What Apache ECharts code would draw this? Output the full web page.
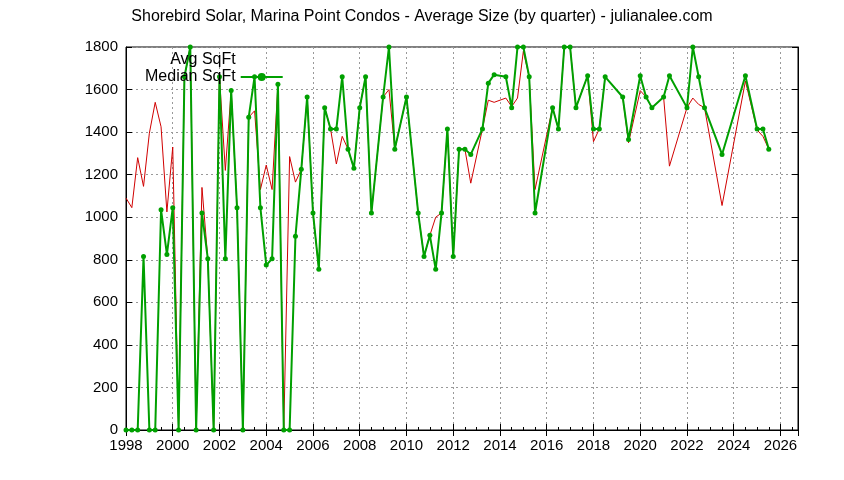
<!DOCTYPE html>
<html><head><meta charset="utf-8">
<script src="https://cdn.jsdelivr.net/npm/echarts@6/dist/echarts.min.js"></script>
<style>html,body{margin:0;padding:0;background:#fff}#c{width:844px;height:480px}</style>
</head><body><div id="c"></div>
<script>
const years=[1998,1998.25,1998.5,1998.75,1999,1999.25,1999.5,1999.75,2000,2000.25,2000.5,2000.75,2001,2001.25,2001.5,2001.75,2002,2002.25,2002.5,2002.75,2003,2003.25,2003.5,2003.75,2004,2004.25,2004.5,2004.75,2005,2005.25,2005.5,2005.75,2006,2006.25,2006.5,2006.75,2007,2007.25,2007.5,2007.75,2008,2008.25,2008.5,2009,2009.25,2009.5,2010,2010.5,2010.75,2011,2011.25,2011.5,2011.75,2012,2012.25,2012.5,2012.75,2013.25,2013.5,2013.75,2014.25,2014.5,2014.75,2015,2015.25,2015.5,2016.25,2016.5,2016.75,2017,2017.25,2017.75,2018,2018.25,2018.5,2019.25,2019.5,2020,2020.25,2020.5,2021,2021.25,2022,2022.25,2022.5,2022.75,2023.5,2024.5,2025,2025.25,2025.5];
const medianSqFt=[0,0,0,815,0,0,1035,825,1045,0,1660,1800,0,1020,805,0,1660,805,1595,1045,0,1470,1660,1045,775,805,1625,0,0,910,1225,1565,1020,755,1515,1415,1415,1660,1320,1230,1515,1660,1020,1565,1800,1320,1565,1020,815,915,755,1020,1415,815,1320,1320,1295,1415,1630,1670,1660,1515,1800,1800,1660,1020,1515,1415,1800,1800,1515,1665,1415,1415,1660,1565,1365,1665,1565,1515,1565,1665,1515,1800,1660,1515,1295,1665,1415,1415,1320];
const avgSqFt=[1090,1045,1280,1145,1395,1540,1425,1025,1330,0,1660,1800,0,1140,805,0,1660,1220,1595,1045,0,1470,1500,1130,1245,1130,1625,0,1285,1165,1225,1565,1020,755,1515,1415,1250,1380,1320,1230,1515,1660,1020,1565,1600,1320,1565,1020,815,915,1000,1020,1415,815,1320,1320,1160,1415,1550,1540,1560,1520,1560,1780,1660,1130,1515,1415,1800,1800,1515,1665,1355,1415,1660,1565,1350,1595,1565,1515,1565,1240,1515,1560,1530,1515,1055,1640,1410,1380,1320];
const pair=a=>years.map((y,i)=>[y,a[i]]);
const chart=echarts.init(document.getElementById('c'));
const font='Liberation Sans, Arial, sans-serif';
const tick={inside:true,length:6,lineStyle:{color:'#000'}};
chart.setOption({
  animation:false,
  title:{text:'Shorebird Solar, Marina Point Condos - Average Size (by quarter) - julianalee.com',left:'center',top:4,textStyle:{fontFamily:font,fontSize:16,fontWeight:'normal',color:'#000'}},
  legend:{orient:'vertical',left:140,top:47,align:'right',itemWidth:42,itemHeight:10,itemGap:1,textStyle:{fontFamily:font,fontSize:16,color:'#000'},
    data:[{name:'Avg SqFt',icon:'none'},{name:'Median SqFt'}]},
  grid:{left:126,right:46,top:47,bottom:50,show:true,borderColor:'#000',borderWidth:1},
  xAxis:[{type:'value',min:1998,max:2026.75,interval:2,
    axisLine:{lineStyle:{color:'#000'}},axisTick:tick,
    minorTick:{show:true,splitNumber:4,length:3,lineStyle:{color:'#000'}},
    axisLabel:{fontFamily:font,fontSize:15,color:'#000',formatter:v=>v%2===0?String(v):''},
    splitLine:{show:true,lineStyle:{color:'#999',type:[2,3]}}},
    {type:'value',position:'top',min:1998,max:2026.75,interval:2,axisLine:{lineStyle:{color:'#000'}},axisTick:tick,axisLabel:{show:false},splitLine:{show:false}}],
  yAxis:[{type:'value',min:0,max:1800,interval:200,
    axisLine:{show:true,lineStyle:{color:'#000'}},axisTick:tick,
    axisLabel:{fontFamily:font,fontSize:15,color:'#000',formatter:v=>String(v)},
    splitLine:{show:true,lineStyle:{color:'#999',type:[2,3]}}},
    {type:'value',position:'right',min:0,max:1800,interval:200,axisLine:{show:true,lineStyle:{color:'#000'}},axisTick:tick,axisLabel:{show:false},splitLine:{show:false}}],
  series:[
    {name:'Avg SqFt',type:'line',data:pair(avgSqFt),showSymbol:false,symbol:'none',lineStyle:{color:'#d00000',width:1},itemStyle:{color:'#d00000'},z:2},
    {name:'Median SqFt',type:'line',data:pair(medianSqFt),symbol:'circle',symbolSize:5,lineStyle:{color:'#00a000',width:2},itemStyle:{color:'#00a000'},z:3}
  ]
});
</script></body></html>
